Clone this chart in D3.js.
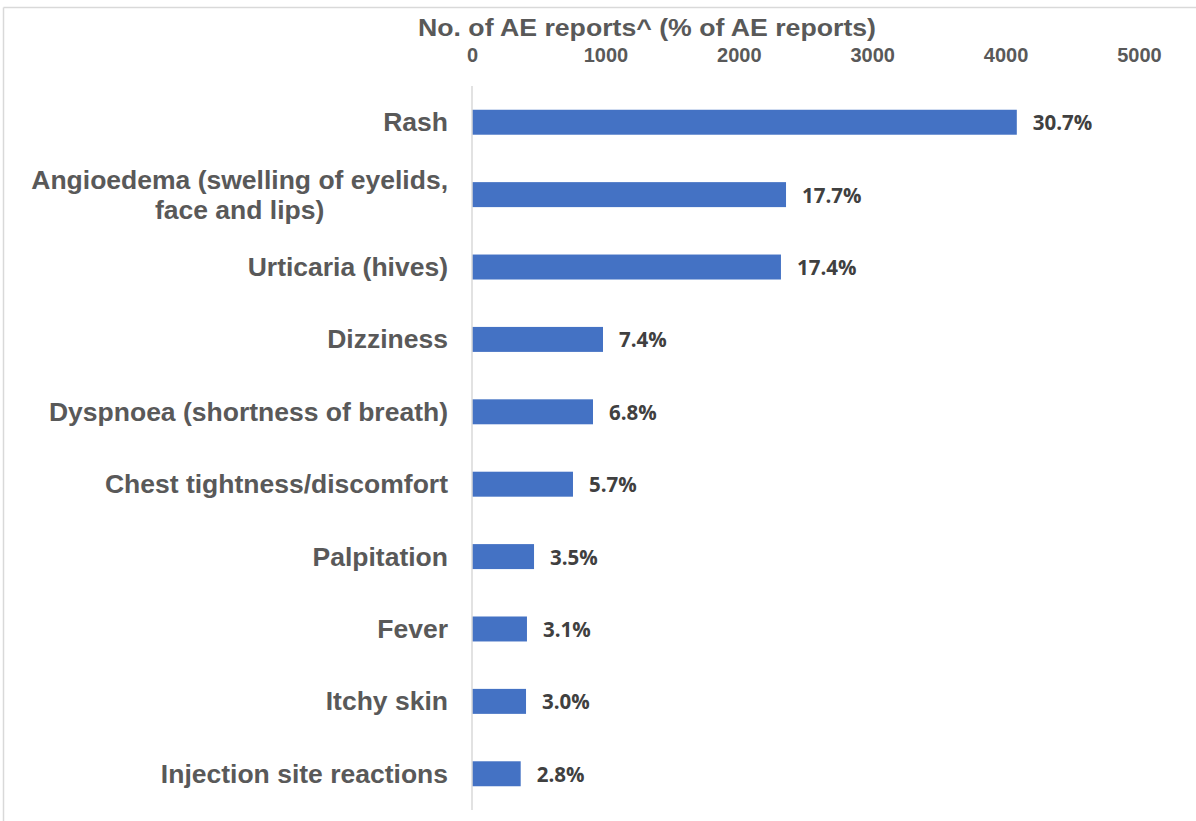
<!DOCTYPE html>
<html>
<head>
<meta charset="utf-8">
<script src="https://cdn.jsdelivr.net/npm/d3@7"></script>
<style>
  body { margin: 0; background: #fff; }
  svg { display: block; }
</style>
</head>
<body>
<div id="viz"></div>
<script>
// categories, top to bottom
var categories = ['Rash', 'Angioedema (swelling of eyelids,\nface and lips)', 'Urticaria (hives)',
  'Dizziness', 'Dyspnoea (shortness of breath)', 'Chest tightness/discomfort',
  'Palpitation', 'Fever', 'Itchy skin', 'Injection site reactions'];
// no. of AE reports
var reports = [4084, 2354, 2316, 982, 907, 757, 465, 412, 405, 365];
var pctLabels = ['30.7%', '17.7%', '17.4%', '7.4%', '6.8%', '5.7%', '3.5%', '3.1%', '3.0%', '2.8%'];
var ticks = [0, 1000, 2000, 3000, 4000, 5000];

var width = 1196, height = 821;
var margin = {top: 86, right: 57, bottom: 11, left: 472};

var data = categories.map(function(c, i) {
  return {name: c, value: reports[i], label: pctLabels[i]};
});

var x = d3.scaleLinear()
  .domain([0, 5000])
  .range([margin.left, width - margin.right]);

var y = d3.scaleBand()
  .domain(d3.range(data.length))
  .range([margin.top, height - margin.bottom])
  .paddingInner(0.655)
  .paddingOuter(0.328);

var svg = d3.select('#viz')
  .append('svg')
  .attr('width', width)
  .attr('height', height);

// frame (top + left edges)
svg.append('line')
  .attr('x1', 3.5).attr('x2', width)
  .attr('y1', 7.5).attr('y2', 7.5)
  .attr('stroke', '#d9d9d9').attr('stroke-width', 1.5);
svg.append('line')
  .attr('x1', 3.5).attr('x2', 3.5)
  .attr('y1', 7.5).attr('y2', height)
  .attr('stroke', '#d9d9d9').attr('stroke-width', 1.5);

// axis title
svg.append('text')
  .attr('x', 647)
  .attr('y', 36)
  .attr('text-anchor', 'middle')
  .attr('font-family', 'Liberation Sans, Arial, sans-serif')
  .attr('font-weight', 'bold')
  .attr('font-size', 24)
  .attr('fill', '#595959')
  .attr('textLength', 458)
  .attr('lengthAdjust', 'spacingAndGlyphs')
  .text('No. of AE reports^ (% of AE reports)');

// top axis
var axis = svg.append('g')
  .attr('transform', 'translate(0,' + margin.top + ')')
  .call(d3.axisTop(x).tickValues(ticks).tickSize(0).tickPadding(24).tickFormat(d3.format('d')));
axis.select('.domain').remove();
axis.selectAll('text')
  .attr('font-family', 'Liberation Sans, Arial, sans-serif')
  .attr('font-weight', 'bold')
  .attr('font-size', 20)
  .attr('fill', '#595959');

// bars
svg.append('g')
  .attr('fill', '#4472c4')
  .selectAll('rect')
  .data(data)
  .join('rect')
  .attr('x', x(0))
  .attr('y', function(d, i) { return y(i); })
  .attr('width', function(d) { return x(d.value) - x(0); })
  .attr('height', y.bandwidth());

// vertical axis line
svg.append('line')
  .attr('x1', x(0)).attr('x2', x(0))
  .attr('y1', margin.top).attr('y2', height - margin.bottom)
  .attr('stroke', '#d9d9d9').attr('stroke-width', 1.5);

// category labels
var cat = svg.append('g')
  .selectAll('text')
  .data(data)
  .join('text')
  .attr('font-family', 'Liberation Sans, Arial, sans-serif')
  .attr('font-weight', 'bold')
  .attr('font-size', 26.5)
  .attr('fill', '#595959')
  .attr('text-anchor', 'end')
  .attr('x', x(0) - 24)
  .attr('y', function(d, i) { return y(i) + y.bandwidth() / 2 + 9; });

cat.each(function(d, i) {
  var lines = d.name.split('\n');
  var t = d3.select(this);
  if (lines.length === 1) {
    t.text(d.name);
    return;
  }
  // multi-line: lines centred against each other, block right-aligned
  var cy = y(i) + y.bandwidth() / 2 + 9 - 15;
  t.attr('text-anchor', 'middle');
  var spans = t.selectAll('tspan').data(lines).join('tspan').text(function(l) { return l; });
  var widest = d3.max(spans.nodes(), function(n) { return n.getComputedTextLength(); });
  var cx = x(0) - 24 - widest / 2;
  spans.attr('x', cx).attr('y', function(l, j) { return cy + j * 30; });
});

// value labels
svg.append('g')
  .selectAll('text')
  .data(data)
  .join('text')
  .attr('font-family', 'Open Sans, sans-serif')
  .attr('font-weight', 'bold')
  .attr('font-size', 20.5)
  .attr('fill', '#404040')
  .attr('x', function(d) { return x(d.value) + 16; })
  .attr('y', function(d, i) { return y(i) + y.bandwidth() / 2 + 8; })
  .text(function(d) { return d.label; });
</script>
</body>
</html>
